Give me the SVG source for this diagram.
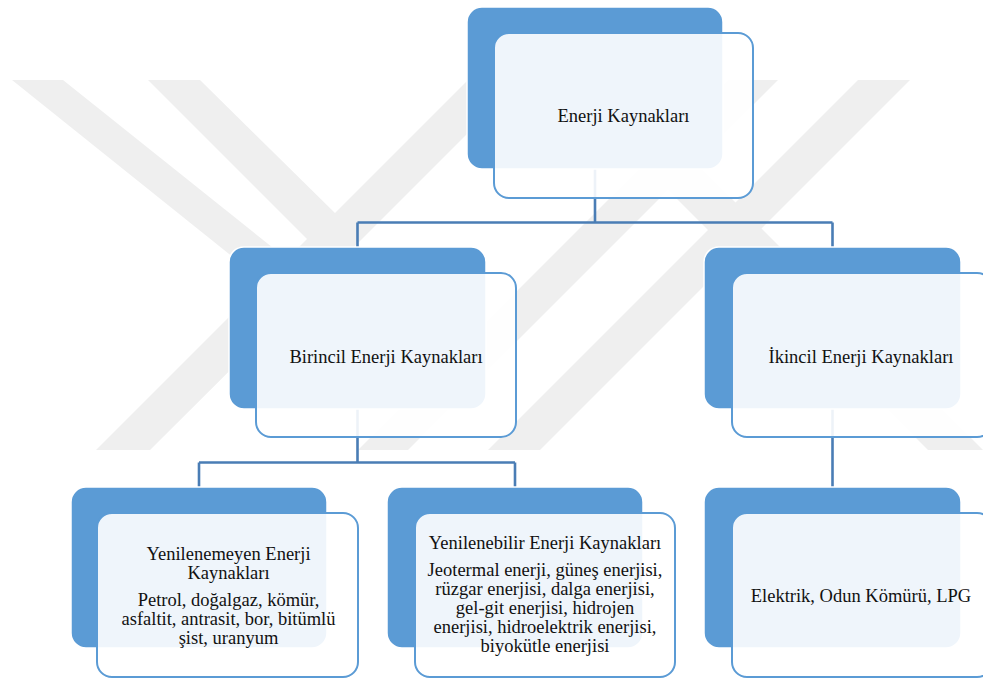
<svg xmlns="http://www.w3.org/2000/svg" width="983" height="679" viewBox="0 0 983 679">
<style>
.wm{fill:#efefef}
.back{fill:#5b9bd5;stroke:#ffffff;stroke-width:1.5}
.front{fill:#ffffff;fill-opacity:0.9;stroke:#5b9bd5;stroke-width:2}
.conn{fill:none;stroke:#4a7db5;stroke-width:2.6}
text{font-family:"Liberation Serif","Times New Roman",serif;font-size:18.5px;fill:#111;text-anchor:middle}
</style>
<rect width="983" height="679" fill="#ffffff"/>
<g id="watermark">
<polygon class="wm" points="12,80 63,80 287,259 264,282"/>
<polygon class="wm" points="148,80 200,80 335,213 468,80 521,80 334.5,266.5 150,450 96,450 307,239"/>
<polygon class="wm" points="728,80 778,80 408,450 358,450"/>
<polygon class="wm" points="858,80 910,80 540,450 488,450"/>
<polygon class="wm" points="558,80 613,80 983,450 928,450"/>
</g>
<g id="connectors">
<path class="conn" d="M595,169 V222.5 M357.5,222.5 H832.5 M357.5,222.5 V247 M832.5,222.5 V247"/>
<path class="conn" d="M357.5,409 V462.5 M199,462.5 H515 M199,462.5 V487 M515,462.5 V487"/>
<path class="conn" d="M832.5,409 V487"/>
</g>
<g id="node-enerji">
<rect class="back" x="467" y="7" width="256" height="162" rx="15"/>
<rect class="front" x="494" y="33" width="259" height="165" rx="15"/>
<text x="623.5" y="122">Enerji Kaynakları</text>
</g>
<g id="node-birincil">
<rect class="back" x="229" y="247" width="257" height="162" rx="15"/>
<rect class="front" x="256" y="273" width="260" height="164" rx="15"/>
<text x="386" y="363">Birincil Enerji Kaynakları</text>
</g>
<g id="node-ikincil">
<rect class="back" x="704" y="247" width="257" height="162" rx="15"/>
<rect class="front" x="732" y="273" width="260" height="164" rx="15"/>
<text x="861" y="363">İkincil Enerji Kaynakları</text>
</g>
<g id="node-yenilenemeyen">
<rect class="back" x="71" y="487" width="256" height="161" rx="15"/>
<rect class="front" x="97" y="513" width="261" height="164" rx="15"/>
<text x="228.5" y="560">Yenilenemeyen Enerji</text>
<text x="228.5" y="579">Kaynakları</text>
<text x="228.5" y="606">Petrol, doğalgaz, kömür,</text>
<text x="228.5" y="625">asfaltit, antrasit, bor, bitümlü</text>
<text x="228.5" y="644">şist, uranyum</text>
</g>
<g id="node-yenilenebilir">
<rect class="back" x="387" y="487" width="256" height="161" rx="15"/>
<rect class="front" x="415" y="513" width="260" height="164" rx="15"/>
<text x="545" y="549">Yenilenebilir Enerji Kaynakları</text>
<text x="545" y="576">Jeotermal enerji, güneş enerjisi,</text>
<text x="545" y="595">rüzgar enerjisi, dalga enerjisi,</text>
<text x="545" y="614">gel-git enerjisi, hidrojen</text>
<text x="545" y="633">enerjisi, hidroelektrik enerjisi,</text>
<text x="545" y="652">biyokütle enerjisi</text>
</g>
<g id="node-elektrik">
<rect class="back" x="704" y="487" width="257" height="161" rx="15"/>
<rect class="front" x="732" y="513" width="260" height="164" rx="15"/>
<text x="861" y="601.5">Elektrik, Odun Kömürü, LPG</text>
</g>
</svg>
